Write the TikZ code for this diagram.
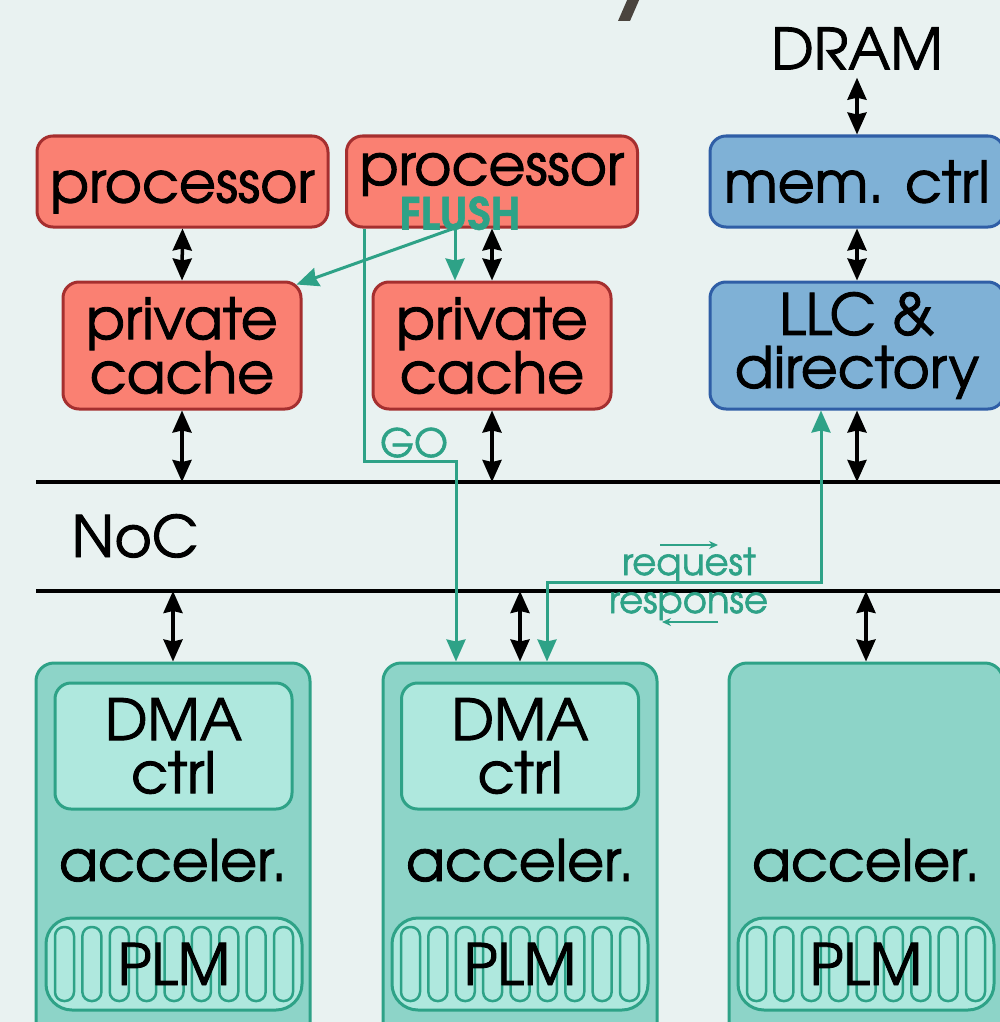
\documentclass[tikz,border=0pt]{standalone}
\usepackage{fontspec}
\setmainfont{texgyreadventor}[Extension=.otf, UprightFont=*-regular, BoldFont=*-bold, ItalicFont=*-italic, BoldItalicFont=*-bolditalic, UprightFeatures={FakeBold=1.6}, BoldFeatures={FakeBold=1.2}]
\usetikzlibrary{arrows.meta,calc}

\definecolor{bgcol}{HTML}{E9F2F1}
\definecolor{procfill}{HTML}{FA8072}
\definecolor{procline}{HTML}{A52F2F}
\definecolor{memfill}{HTML}{7FB1D6}
\definecolor{memline}{HTML}{2F5EA6}
\definecolor{tealline}{HTML}{2EA287}
\definecolor{accfill}{HTML}{8DD4C8}
\definecolor{dmafill}{HTML}{AFE8DE}
\definecolor{slashcol}{HTML}{4A443E}

\begin{document}
\begin{tikzpicture}[x=1pt, y=-1pt,
            every node/.style={font=\fontsize{57}{53}\selectfont, align=center, inner sep=0pt},
            oneLine/.style={text height=42pt, text depth=0pt},
            procNode/.style={draw=procline, fill=procfill, line width=3pt, rounded corners=16pt, minimum width=291pt, minimum height=91pt},
            cacheNode/.style={procNode, minimum width=238pt, minimum height=127pt},
            memNode/.style={draw=memline, fill=memfill, line width=3pt, rounded corners=16pt, minimum width=294pt},
            accNode/.style={draw=tealline, fill=accfill, line width=3pt, rounded corners=18pt, minimum width=274pt, minimum height=380pt},
            dmaNode/.style={draw=tealline, fill=dmafill, line width=3pt, rounded corners=16pt, minimum width=237pt, minimum height=126pt},
            plmNode/.style={draw=tealline, fill=dmafill, line width=3pt, rounded corners=26pt, minimum width=256pt, minimum height=92pt},
            pillShape/.style={draw=tealline, line width=2.5pt, rounded corners=9pt},
            nocLine/.style={line width=3.5pt},
            link/.style={{Stealth[length=22pt,width=19pt,inset=2pt]}-{Stealth[length=22pt,width=19pt,inset=2pt]}, line width=3.5pt},
            flow/.style={draw=tealline, line width=3pt, -{Stealth[length=22pt,width=19pt,inset=2pt]}},
            flowBoth/.style={flow, {Stealth[length=22pt,width=19pt,inset=2pt]}-{Stealth[length=22pt,width=19pt,inset=2pt]}},
            hint/.style={draw=tealline, line width=2pt, -{Stealth[length=9pt,width=8pt]}},
            flowLabel/.style={text=tealline, font=\fontsize{37}{37}\selectfont}]

            \fill[bgcol] (0,0) rectangle (1000,1022);
            \useasboundingbox (0,0) rectangle (1000,1022);
            \clip (0,0) rectangle (1000,1022);

            \fill[slashcol] (618,21) -- (630,21) -- (640,-2) -- (628,-2) -- cycle;

            \node[procNode, oneLine] (proc1) at (182.5,181.5) {processor};
            \node[procNode, oneLine, text depth=35pt] (proc2) at (492,181.5) {processor};
            \node[memNode, oneLine, minimum height=91pt] (memctrl) at (857,181.5) {mem. ctrl};
            \node[oneLine] (dram) at (857,48.5) {DRAM};

            \node[cacheNode] (cache1) at (182,345.5) {private\\cache};
            \node[cacheNode] (cache2) at (492,345.5) {private\\cache};
            \node[memNode, minimum height=127pt] (llc) at (857,345.5) {LLC \&\\directory};

            \coordinate (noctop) at (36,482);
            \coordinate (nocbot) at (36,591);
            \draw[nocLine] (noctop) -- ++(990,0);
            \draw[nocLine] (nocbot) -- ++(990,0);
            \node[oneLine] (noc) at (135,536) {NoC};

            \node[accNode] (acc1) at (173,853) {};
            \node[accNode] (acc2) at (520,853) {};
            \node[accNode] (acc3) at (866,853) {};
            \node[dmaNode] (dma1) at (173.5,746) {DMA\\ctrl};
            \node[dmaNode] (dma2) at (520,746) {DMA\\ctrl};
            \node[oneLine] (accname1) at (173,860) {acceler.};
            \node[oneLine] (accname2) at (520,860) {acceler.};
            \node[oneLine] (accname3) at (866,860) {acceler.};
            \node[plmNode] (plm1) at (174,964) {};
            \node[plmNode] (plm2) at (520,964) {};
            \node[plmNode] (plm3) at (866,964) {};
            \foreach \p in {plm1,plm2,plm3}
                \foreach \k in {0,...,8}
                    \draw[pillShape] ($(\p.center)+(-109.5+27.375*\k,0)$) +(-9.5,-37) rectangle +(9.5,37);
            \node[oneLine] (plmname1) at (plm1) {PLM};
            \node[oneLine] (plmname2) at (plm2) {PLM};
            \node[oneLine] (plmname3) at (plm3) {PLM};

            \draw[link] ([yshift=-8pt]dram.south) -- (memctrl.north);
            \draw[link] (memctrl.south) -- (llc.north);
            \draw[link] (llc.south) -- (llc.south |- noctop);
            \draw[link] (proc1.south) -- (cache1.north);
            \draw[link] (cache1.south) -- (cache1.south |- noctop);
            \draw[link] (proc2.south) -- (cache2.north);
            \draw[link] (cache2.south) -- (cache2.south |- noctop);
            \draw[link] (nocbot -| acc1.north) -- (acc1.north);
            \draw[link] (nocbot -| acc2.north) -- (acc2.north);
            \draw[link] (nocbot -| acc3.north) -- (acc3.north);

            \node[flowLabel, font=\bfseries\fontsize{44}{44}\selectfont, oneLine, text height=31pt] (flush) at (460,214) {FLUSH};
            \coordinate (flushfoot) at (455,228);
            \draw[flow] (flushfoot) -- (flushfoot |- cache2.north);
            \draw[flow] (flushfoot) -- ([shift={(-6pt,-4pt)}]cache1.north east);

            \node[flowLabel, oneLine, text height=29pt, font=\fontsize{39}{39}\selectfont] (go) at (414,442.5) {GO};
            \coordinate (goturn) at (456,461);
            \draw[flow] ([xshift=19pt]proc2.south west) |- (goturn) -- (goturn |- acc2.north);

            \coordinate (reqbend) at (547,582);
            \coordinate (reqturn) at (821,582);
            \draw[flowBoth] (acc2.north -| reqbend) |- (reqturn) -- (reqturn |- llc.south);
            \node[flowLabel, anchor=base] (req) at (689,575) {request};
            \node[flowLabel, anchor=base] (resp) at (688.5,613) {response};
            \draw[hint] ($(req.base)+(-29,-30)$) -- ($(req.base)+(29,-30)$);
            \draw[hint] ($(resp.base)+(29.5,9)$) -- ($(resp.base)+(-26.5,9)$);
        \end{tikzpicture}
\end{document}
